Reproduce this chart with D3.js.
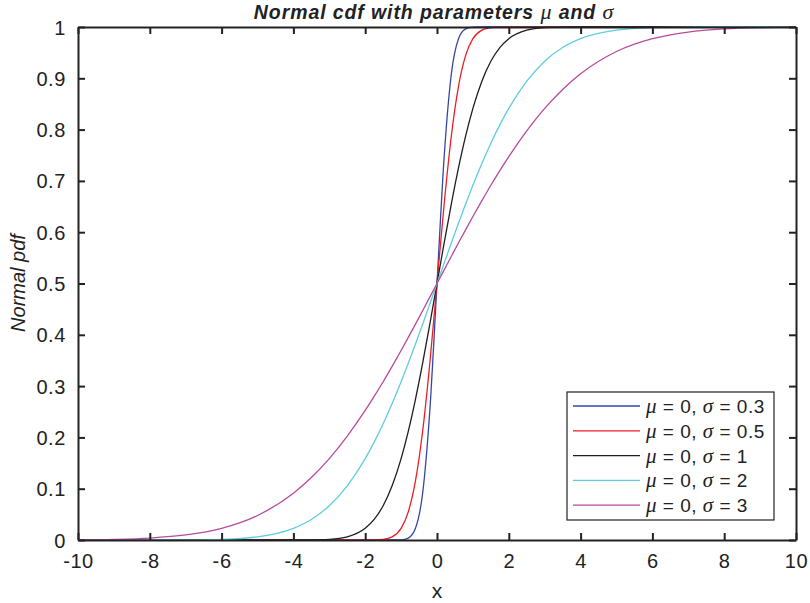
<!DOCTYPE html>
<html>
<head>
<meta charset="utf-8">
<script src="https://cdn.jsdelivr.net/npm/d3@7"></script>
<style>
  body { margin: 0; background: #fff; }
  text { font-family: "Liberation Sans", Arial, sans-serif; fill: #222; }
</style>
</head>
<body>
<svg id="chart" width="810" height="603"></svg>
<script>
// x positions where the curves were read
const xs = [-10,-9,-8,-7,-6,-5,-4,-3.5,-3,-2.5,-2,-1.75,-1.5,-1.25,-1,-0.8,-0.6,-0.4,-0.2,0,
  0.2,0.4,0.6,0.8,1,1.25,1.5,1.75,2,2.5,3,3.5,4,5,6,7,8,9,10];

const sig03 = [0,0,0,0,0,0,0,0,0,0,0,0,0,0,0.0004,0.0038,0.0228,0.0912,0.2525,0.5,
  0.7475,0.9088,0.9772,0.9962,0.9996,1,1,1,1,1,1,1,1,1,1,1,1,1,1];
const sig05 = [0,0,0,0,0,0,0,0,0,0,0,0.0002,0.0013,0.0062,0.0228,0.0548,0.1151,0.2119,0.3446,0.5,
  0.6554,0.7881,0.8849,0.9452,0.9772,0.9938,0.9987,0.9998,1,1,1,1,1,1,1,1,1,1,1];
const sig1 = [0,0,0,0,0,0,0,0.0002,0.0013,0.0062,0.0228,0.0401,0.0668,0.1056,0.1587,0.2119,0.2743,0.3446,0.4207,0.5,
  0.5793,0.6554,0.7257,0.7881,0.8413,0.8944,0.9332,0.9599,0.9772,0.9938,0.9987,0.9998,1,1,1,1,1,1,1];
const sig2 = [0,0,0.00003,0.0002,0.0013,0.0062,0.0228,0.0401,0.0668,0.1056,0.1587,0.1908,0.2266,0.2660,0.3085,0.3446,0.3821,0.4207,0.4602,0.5,
  0.5398,0.5793,0.6179,0.6554,0.6915,0.7340,0.7734,0.8092,0.8413,0.8944,0.9332,0.9599,0.9772,0.9938,0.9987,0.9998,1,1,1];
const sig3 = [0.0004,0.0013,0.0038,0.0098,0.0228,0.0478,0.0912,0.1217,0.1587,0.2025,0.2525,0.2799,0.3085,0.3385,0.3694,0.3949,0.4207,0.4470,0.4734,0.5,
  0.5266,0.5530,0.5793,0.6051,0.6306,0.6615,0.6915,0.7201,0.7475,0.7977,0.8413,0.8783,0.9088,0.9522,0.9772,0.9902,0.9962,0.9987,0.9996];

const sigmaLabels = ['0.3', '0.5', '1', '2', '3'];
const colors = ['#3446a8', '#ee1d25', '#1e1e1e', '#5fcde0', '#b84a9e'];
const series = [sig03, sig05, sig1, sig2, sig3];

const xTicks = [-10,-8,-6,-4,-2,0,2,4,6,8,10];
const yTicks = [0,0.1,0.2,0.3,0.4,0.5,0.6,0.7,0.8,0.9,1];

const plotL = 78, plotR = 796, plotT = 27, plotB = 540;

const svg = d3.select('#chart');
const x = d3.scaleLinear().domain([-10, 10]).range([plotL, plotR]);
const y = d3.scaleLinear().domain([0, 1]).range([plotB, plotT]);

// curves
const line = d3.line()
  .x(d => x(d[0]))
  .y(d => y(d[1]))
  .curve(d3.curveMonotoneX);

series.forEach((vals, i) => {
  svg.append('path')
    .datum(xs.map((v, j) => [v, vals[j]]))
    .attr('fill', 'none')
    .attr('stroke', colors[i])
    .attr('stroke-width', 1.3)
    .attr('d', line);
});

// axes (ticks inside, box around)
const tickLen = 7;
const fmt = d => String(d);   // plain hyphen minus like the original

const xAxis = svg.append('g').attr('transform', `translate(0,${plotB})`)
  .call(d3.axisBottom(x).tickValues(xTicks).tickSizeInner(-tickLen).tickSizeOuter(0).tickPadding(14).tickFormat(fmt));
const yAxis = svg.append('g').attr('transform', `translate(${plotL},0)`)
  .call(d3.axisLeft(y).tickValues(yTicks).tickSizeInner(-tickLen).tickSizeOuter(0).tickPadding(12).tickFormat(fmt));
const xTop = svg.append('g').attr('transform', `translate(0,${plotT})`)
  .call(d3.axisTop(x).tickValues(xTicks).tickSizeInner(-tickLen).tickSizeOuter(0).tickFormat(''));
const yRight = svg.append('g').attr('transform', `translate(${plotR},0)`)
  .call(d3.axisRight(y).tickValues(yTicks).tickSizeInner(-tickLen).tickSizeOuter(0).tickFormat(''));

[xAxis, yAxis, xTop, yRight].forEach(g => {
  g.select('.domain').attr('stroke', '#222').attr('stroke-width', 2);
  g.selectAll('.tick line').attr('stroke', '#222').attr('stroke-width', 2);
  g.selectAll('.tick text').attr('font-size', 20).attr('fill', '#222')
    .attr('font-family', '"Liberation Sans", Arial, sans-serif')
    .attr('letter-spacing', 0.6);
});
xAxis.selectAll('.tick text').attr('dy', '0.71em');
yAxis.selectAll('.tick text').attr('dy', '0.35em');

// title
const title = svg.append('text')
  .attr('x', 434).attr('y', 19)
  .attr('text-anchor', 'middle')
  .attr('font-size', 19.5).attr('font-weight', 'bold').attr('font-style', 'italic')
  .attr('letter-spacing', 0.9);
title.append('tspan').text('Normal cdf with parameters ');
title.append('tspan').attr('font-family', '"Liberation Serif", "Times New Roman", serif').attr('font-weight', 'normal').attr('font-size', 22).text('μ');
title.append('tspan').text(' and ');
title.append('tspan').attr('font-family', '"Liberation Serif", "Times New Roman", serif').attr('font-weight', 'normal').attr('font-size', 22).text('σ');

// axis labels
svg.append('text')
  .attr('x', 437).attr('y', 598)
  .attr('text-anchor', 'middle')
  .attr('font-size', 21)
  .text('x');

svg.append('text')
  .attr('transform', 'translate(25,283) rotate(-90)')
  .attr('text-anchor', 'middle')
  .attr('font-size', 20).attr('font-style', 'italic')
  .text('Normal pdf');

// legend
const legend = svg.append('g');
legend.append('rect')
  .attr('x', 567).attr('y', 392).attr('width', 207).attr('height', 128)
  .attr('fill', '#fff').attr('stroke', '#222').attr('stroke-width', 1.2);

sigmaLabels.forEach((s, i) => {
  const ly = 406 + i * 24.8;
  legend.append('line')
    .attr('x1', 573).attr('x2', 640).attr('y1', ly).attr('y2', ly)
    .attr('stroke', colors[i]).attr('stroke-width', 1.3);
  const t = legend.append('text')
    .attr('x', 646).attr('y', ly + 7)
    .attr('font-size', 19).attr('letter-spacing', 0.5);
  t.append('tspan').attr('font-family', '"Liberation Serif", "Times New Roman", serif').attr('font-style', 'italic').attr('font-size', 21).text('μ');
  t.append('tspan').text(' = 0, ');
  t.append('tspan').attr('font-family', '"Liberation Serif", "Times New Roman", serif').attr('font-style', 'italic').attr('font-size', 21).text('σ');
  t.append('tspan').text(' = ' + s);
});
</script>
</body>
</html>
